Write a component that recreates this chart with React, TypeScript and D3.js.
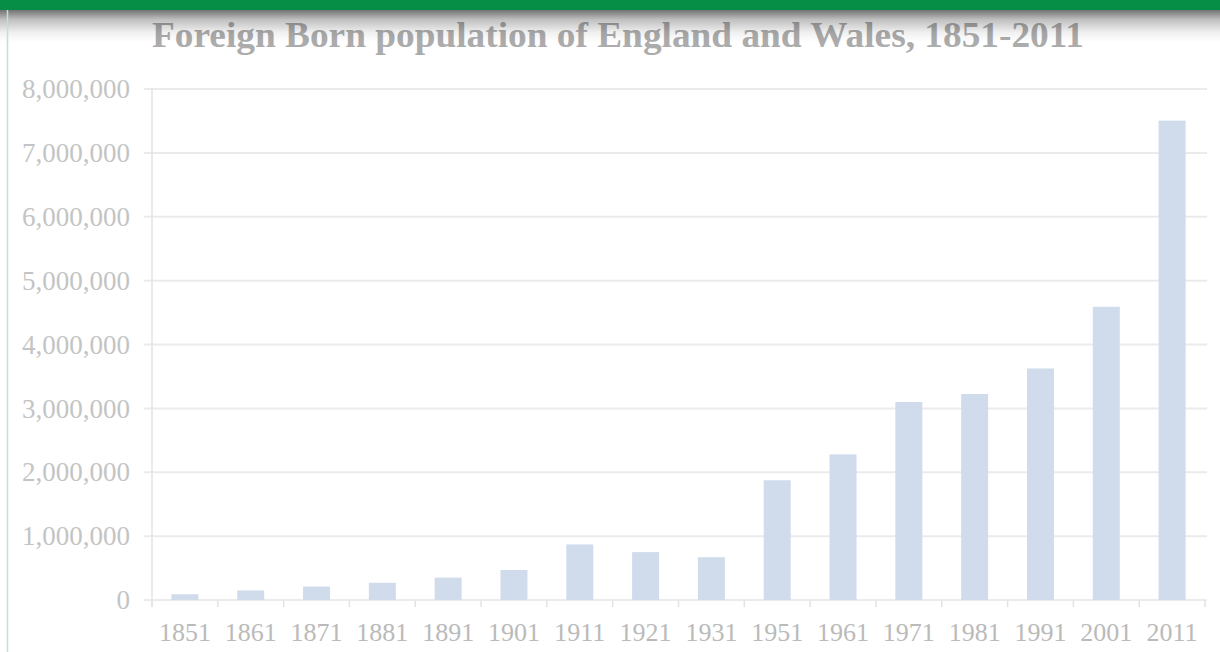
import React from 'react';
import * as d3 from 'd3';

const years = ['1851', '1861', '1871', '1881', '1891', '1901', '1911', '1921', '1931', '1951', '1961', '1971', '1981', '1991', '2001', '2011'];
const foreignBorn = [90000, 150000, 210000, 270000, 350000, 470000, 870000, 750000, 670000, 1875000, 2280000, 3100000, 3225000, 3625000, 4590000, 7505000];
const yTicks = [0, 1000000, 2000000, 3000000, 4000000, 5000000, 6000000, 7000000, 8000000];
const title = 'Foreign Born population of England and Wales, 1851-2011';

const W = 1220;
const H = 652;
const plot = { left: 152, right: 1205, top: 89, bottom: 600 };

const App = () => {
    const x = d3.scaleBand<string>()
        .domain(years)
        .range([plot.left, plot.right])
        .paddingInner(0.59)
        .paddingOuter(0.295);
    const y = d3.scaleLinear().domain([0, 8000000]).range([plot.bottom, plot.top]);
    const fmt = d3.format(',');
    const step = x.step();
    const serif = '"Liberation Serif", "Times New Roman", serif';

    return (
        <svg width={W} height={H} style={{ position: 'absolute', left: 0, top: 0, display: 'block', background: '#fff' }}>
            <defs>
                <linearGradient id="shade" x1="0" y1="0" x2="0" y2="1">
                    <stop offset="0" stopColor="#000" stopOpacity={0.55} />
                    <stop offset="0.3" stopColor="#000" stopOpacity={0.25} />
                    <stop offset="0.7" stopColor="#000" stopOpacity={0.06} />
                    <stop offset="1" stopColor="#000" stopOpacity={0} />
                </linearGradient>
            </defs>

            <text x={618} y={47} textAnchor="middle" fontFamily={serif} fontWeight="bold" fontSize={35}
                textLength={932} lengthAdjust="spacingAndGlyphs" fill="#acacac">
                {title}
            </text>

            {/* gridlines */}
            {yTicks.map(t => (
                <line key={'g' + t} x1={plot.left - 8} x2={plot.right + 2} y1={y(t)} y2={y(t)} stroke="#ebebeb" strokeWidth={2} />
            ))}

            {/* y axis */}
            <line x1={plot.left} x2={plot.left} y1={plot.top} y2={plot.bottom + 7} stroke="#e3e3e3" strokeWidth={1.5} />
            {yTicks.map(t => (
                <text key={'yl' + t} x={130} y={y(t)} dy="0.34em" textAnchor="end" fontFamily={serif} fontSize={27} fill="#c4c4c4">
                    {fmt(t)}
                </text>
            ))}

            {/* x axis ticks */}
            {d3.range(years.length + 1).map(i => (
                <line key={'xt' + i} x1={plot.left + i * step} x2={plot.left + i * step} y1={plot.bottom} y2={plot.bottom + 7} stroke="#e3e3e3" strokeWidth={1.5} />
            ))}

            {/* bars */}
            {years.map((yr, i) => (
                <rect key={yr} x={x(yr)} y={y(foreignBorn[i])} width={x.bandwidth()} height={y(0) - y(foreignBorn[i])} fill="#d0dcec" />
            ))}

            {years.map(yr => (
                <text key={'xl' + yr} x={(x(yr) ?? 0) + x.bandwidth() / 2} y={641} textAnchor="middle" fontFamily={serif} fontSize={26} fill="#bababa">
                    {yr}
                </text>
            ))}

            {/* frame: top banner and its shadow, left rule */}
            <rect x={0} y={10} width={W} height={32} fill="url(#shade)" />
            <rect x={0} y={0} width={W} height={10} fill="#068e47" />
            <line x1={7.5} x2={7.5} y1={10} y2={H} stroke="#bde4cd" strokeWidth={1.5} />
        </svg>
    );
};

export default App;
